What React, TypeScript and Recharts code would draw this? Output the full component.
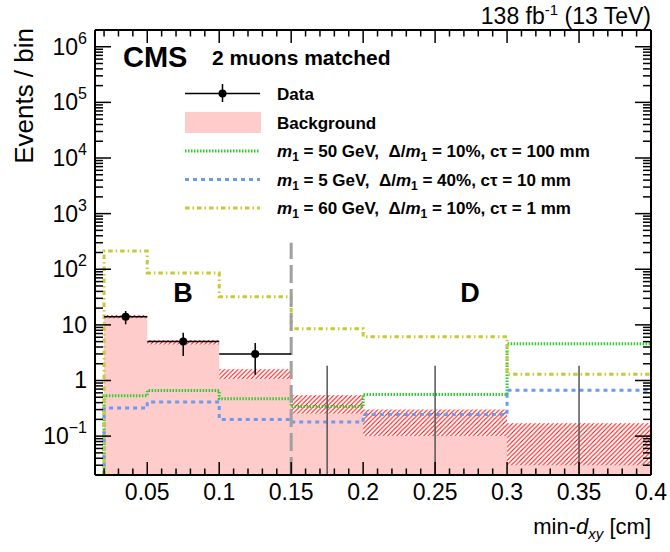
import React from "react"
import {
  ComposedChart,
  Area,
  Line,
  Scatter,
  XAxis,
  YAxis,
  ReferenceLine,
} from "recharts"

const FONT = "'Liberation Sans', Arial, Helvetica, sans-serif"

// binning of min-dxy [cm]
const binEdges = [0.02, 0.05, 0.1, 0.15, 0.2, 0.3, 0.4]
const binCenters = [0.035, 0.075, 0.125, 0.175, 0.25, 0.35]

// observed data
const dataCounts = [14, 5, 3, 0, 0, 0]
const dataErrLow = [3.74, 2.24, 1.73, 0, 0, 0]
const dataErrHigh = [3.74, 2.24, 1.73, 1.84, 1.84, 1.84]

// background prediction + uncertainty
const bkgValues = [14.1, 4.9, 1.34, 0.4, 0.2, 0.1]
const bkgErrors = [0.95, 0.44, 0.26, 0.145, 0.1, 0.07]

// signal models
const sigM50 = [0.53, 0.66, 0.47, 0.34, 0.56, 4.6]
const sigM5 = [0.32, 0.41, 0.2, 0.18, 0.245, 0.67]
const sigM60 = [212, 86, 32, 8.5, 6.1, 1.3]

const sigMass = [50, 5, 60]
const sigWidth = [10, 40, 10]
const sigCtau = [100, 10, 1]

// region boundary B | D
const REGION_EDGE = 0.15
const REGION_LINE_TOP = 300

// axes
const X_MIN = 0.0137
const X_MAX = 0.4
const Y_MIN = 0.02
const Y_MAX = 2e6

const xMajorTicks = [0.05, 0.1, 0.15, 0.2, 0.25, 0.3, 0.35, 0.4]
const xTickLabels = ["0.05", "0.1", "0.15", "0.2", "0.25", "0.3", "0.35", "0.4"]
const yMajorTicks = [0.1, 1, 10, 100, 1e3, 1e4, 1e5, 1e6]
const yTickLabels = [
  ["10", "\u22121"],
  ["1", ""],
  ["10", ""],
  ["10", "2"],
  ["10", "3"],
  ["10", "4"],
  ["10", "5"],
  ["10", "6"],
]

const xMinorTicks: number[] = []
for (let i = 2; i <= 40; i++) {
  if (i % 5 !== 0) xMinorTicks.push(i / 100)
}
const yMinorTicks: number[] = []
;[0.01, 0.1, 1, 10, 100, 1e3, 1e4, 1e5, 1e6].forEach((d) => {
  for (let m = 2; m <= 9; m++) {
    const v = m * d
    if (v >= Y_MIN && v < Y_MAX) yMinorTicks.push(v)
  }
})
const xTicks = [...xMajorTicks, ...xMinorTicks].sort((a, b) => a - b)
const yTicks = [...yMajorTicks, ...yMinorTicks].sort((a, b) => a - b)

// step tables (last edge repeats the last bin)
const bkgRows = binEdges.map((x, i) => {
  const j = Math.min(i, bkgValues.length - 1)
  return {
    x,
    bkg: bkgValues[j],
    band: [bkgValues[j] - bkgErrors[j], bkgValues[j] + bkgErrors[j]],
  }
})

const sigRows = [
  { x: binEdges[0], s50: Y_MIN, s5: Y_MIN, s60: Y_MIN },
  ...binEdges.map((x, i) => {
    const j = Math.min(i, sigM50.length - 1)
    return { x, s50: sigM50[j], s5: sigM5[j], s60: sigM60[j] }
  }),
]

const dataRows = binCenters
  .map((x, i) => ({ x, n: dataCounts[i] }))
  .filter((d) => d.n > 0)

const GREEN = "#2ecc2e"
const BLUE = "#6a9bf0"
const YELLOW = "#c8c83a"
const PINK = "#ffcccc"

const GREEN_DASH = "1.5 1.5"
const BLUE_DASH = "4 4"
const YELLOW_DASH = "4.5 3 1.5 3"

const majorIndex = (list: number[], v: number) =>
  list.findIndex((t) => Math.abs(t - v) <= 1e-9 * Math.max(1, t))

function BottomTick({ x, y, payload }: any) {
  const i = majorIndex(xMajorTicks, payload.value)
  return (
    <g>
      <line x1={x} x2={x} y1={y} y2={y - (i >= 0 ? 13 : 6.5)} stroke="#000" strokeWidth={1.5} />
      {i >= 0 && (
        <text x={x} y={y + 25} textAnchor="middle" fontSize={23} fontFamily={FONT} fill="#000">
          {xTickLabels[i]}
        </text>
      )}
    </g>
  )
}

function TopTick({ x, y, payload }: any) {
  const i = majorIndex(xMajorTicks, payload.value)
  return <line x1={x} x2={x} y1={y} y2={y + (i >= 0 ? 13 : 6.5)} stroke="#000" strokeWidth={1.5} />
}

function LeftTick({ x, y, payload }: any) {
  const i = majorIndex(yMajorTicks, payload.value)
  return (
    <g>
      <line x1={x} x2={x + (i >= 0 ? 16 : 8)} y1={y} y2={y} stroke="#000" strokeWidth={1.5} />
      {i >= 0 && (
        <text x={x - 8} y={y + 8} textAnchor="end" fontSize={23} fontFamily={FONT} fill="#000">
          {yTickLabels[i][0]}
          {yTickLabels[i][1] && (
            <tspan fontSize={16} dy={-11}>
              {yTickLabels[i][1]}
            </tspan>
          )}
        </text>
      )}
    </g>
  )
}

function RightTick({ x, y, payload }: any) {
  const i = majorIndex(yMajorTicks, payload.value)
  return <line x1={x} x2={x - (i >= 0 ? 16 : 8)} y1={y} y2={y} stroke="#000" strokeWidth={1.5} />
}

function SignalLabel({ i, y }: { i: number; y: number }) {
  return (
    <text x={277} y={y} fontSize={17} fontWeight="bold" style={{ whiteSpace: "pre" }}>
      <tspan fontStyle="italic">m</tspan>
      <tspan fontSize={12} dy={4}>1</tspan>
      <tspan dy={-4}>{` = ${sigMass[i]} GeV,  \u0394/`}</tspan>
      <tspan fontStyle="italic">m</tspan>
      <tspan fontSize={12} dy={4}>1</tspan>
      <tspan dy={-4}>{` = ${sigWidth[i]}%, c\u03c4 = ${sigCtau[i]} mm`}</tspan>
    </text>
  )
}

function Overlay() {
  const sigStyles = [
    { color: GREEN, dash: GREEN_DASH, y: 151 },
    { color: BLUE, dash: BLUE_DASH, y: 179.5 },
    { color: YELLOW, dash: YELLOW_DASH, y: 208 },
  ]
  return (
    <svg
      width={670}
      height={552}
      style={{ position: "absolute", left: 0, top: 0, pointerEvents: "none" }}
      fontFamily={FONT}
    >
      <text x={651} y={24} textAnchor="end" fontSize={23}>
        138 fb
        <tspan fontSize={15} dy={-9}>-1</tspan>
        <tspan dy={9}>{" (13 TeV)"}</tspan>
      </text>

      <text transform="translate(33,28) rotate(-90)" textAnchor="end" fontSize={26}>
        Events / bin
      </text>

      <text x={651} y={534} textAnchor="end" fontSize={22}>
        min-
        <tspan fontStyle="italic">d</tspan>
        <tspan fontStyle="italic" fontSize={15} dy={5}>xy</tspan>
        <tspan dy={-5}>{" [cm]"}</tspan>
      </text>

      <text x={123} y={67} fontSize={29} fontWeight="bold">CMS</text>
      <text x={212} y={65} fontSize={21} fontWeight="bold">2 muons matched</text>

      <text x={183} y={302} textAnchor="middle" fontSize={27} fontWeight="bold">B</text>
      <text x={470} y={302} textAnchor="middle" fontSize={27} fontWeight="bold">D</text>

      {/* legend */}
      <line x1={185} x2={260} y1={93.5} y2={93.5} stroke="#000" strokeWidth={1.5} />
      <line x1={222.5} x2={222.5} y1={84} y2={102} stroke="#000" strokeWidth={1.5} />
      <circle cx={222.5} cy={93.5} r={4} fill="#000" />
      <text x={277} y={99.5} fontSize={17} fontWeight="bold">Data</text>

      <rect x={185} y={112} width={76} height={21} fill={PINK} />
      <text x={277} y={128.5} fontSize={17} fontWeight="bold">Background</text>

      {sigStyles.map((s, i) => (
        <g key={i}>
          <line x1={185} x2={260} y1={s.y} y2={s.y} stroke={s.color} strokeWidth={3} strokeDasharray={s.dash} />
          <SignalLabel i={i} y={s.y + 6} />
        </g>
      ))}
    </svg>
  )
}

export default function App() {
  return (
    <div style={{ position: "absolute", left: 0, top: 0, width: 670, height: 552, background: "#fff" }}>
      <svg width={0} height={0} style={{ position: "absolute" }}>
        <defs>
          <pattern id="bkgHatch" patternUnits="userSpaceOnUse" width={4.5} height={4.5}>
            <rect width={4.5} height={4.5} fill="#fff" />
            <path d="M0,4.5 L4.5,0 M-1,1 L1,-1 M3.5,5.5 L5.5,3.5" stroke="#ff0000" strokeWidth={1} />
          </pattern>
        </defs>
      </svg>

      <ComposedChart
        width={670}
        height={552}
        data={bkgRows}
        margin={{ top: 0, right: 0, bottom: 0, left: 0 }}
      >
        <XAxis
          dataKey="x"
          type="number"
          domain={[X_MIN, X_MAX]}
          allowDataOverflow
          ticks={xTicks}
          interval={0}
          tick={<BottomTick />}
          tickSize={0}
          tickMargin={0}
          tickLine={false}
          axisLine={{ stroke: "#000", strokeWidth: 2 }}
          height={77}
        />
        <XAxis
          xAxisId="top"
          orientation="top"
          dataKey="x"
          type="number"
          domain={[X_MIN, X_MAX]}
          allowDataOverflow
          ticks={xTicks}
          interval={0}
          tick={<TopTick />}
          tickSize={0}
          tickMargin={0}
          tickLine={false}
          axisLine={{ stroke: "#000", strokeWidth: 2 }}
          height={30}
        />
        <YAxis
          type="number"
          scale="log"
          domain={[Y_MIN, Y_MAX]}
          allowDataOverflow
          ticks={yTicks}
          interval={0}
          tick={<LeftTick />}
          tickSize={0}
          tickMargin={0}
          tickLine={false}
          axisLine={{ stroke: "#000", strokeWidth: 2 }}
          width={95}
        />
        <YAxis
          yAxisId="right"
          orientation="right"
          type="number"
          scale="log"
          domain={[Y_MIN, Y_MAX]}
          allowDataOverflow
          ticks={yTicks}
          interval={0}
          tick={<RightTick />}
          tickSize={0}
          tickMargin={0}
          tickLine={false}
          axisLine={{ stroke: "#000", strokeWidth: 2 }}
          width={19}
        />

        <Area
          type="stepAfter"
          dataKey="bkg"
          stroke="none"
          fill={PINK}
          fillOpacity={1}
          isAnimationActive={false}
        />
        <Area
          type="stepAfter"
          dataKey="band"
          stroke="none"
          fill="url(#bkgHatch)"
          fillOpacity={1}
          isAnimationActive={false}
        />

        <Line
          data={sigRows}
          type="stepAfter"
          dataKey="s50"
          stroke={GREEN}
          strokeWidth={3}
          strokeDasharray={GREEN_DASH}
          dot={false}
          isAnimationActive={false}
        />
        <Line
          data={sigRows}
          type="stepAfter"
          dataKey="s5"
          stroke={BLUE}
          strokeWidth={3}
          strokeDasharray={BLUE_DASH}
          dot={false}
          isAnimationActive={false}
        />
        <Line
          data={sigRows}
          type="stepAfter"
          dataKey="s60"
          stroke={YELLOW}
          strokeWidth={3}
          strokeDasharray={YELLOW_DASH}
          dot={false}
          isAnimationActive={false}
        />

        <ReferenceLine
          segment={[
            { x: REGION_EDGE, y: Y_MIN },
            { x: REGION_EDGE, y: REGION_LINE_TOP },
          ]}
          stroke="#a0a0a0"
          strokeWidth={3}
          strokeDasharray="18 6"
          ifOverflow="hidden"
        />

        {binCenters.map((x, i) => (
          <ReferenceLine
            key={"ev" + i}
            segment={[
              { x, y: dataCounts[i] > 0 ? dataCounts[i] - dataErrLow[i] : Y_MIN },
              { x, y: dataCounts[i] + dataErrHigh[i] },
            ]}
            stroke={dataCounts[i] > 0 ? "#000" : "#555"}
            strokeWidth={1.5}
            ifOverflow="hidden"
          />
        ))}
        {binCenters.map((x, i) =>
          dataCounts[i] > 0 ? (
            <ReferenceLine
              key={"eh" + i}
              segment={[
                { x: binEdges[i], y: dataCounts[i] },
                { x: binEdges[i + 1], y: dataCounts[i] },
              ]}
              stroke="#000"
              strokeWidth={1.5}
              ifOverflow="hidden"
            />
          ) : null
        )}

        <Scatter
          data={dataRows}
          dataKey="n"
          fill="#000"
          isAnimationActive={false}
          shape={(p: any) => <circle cx={p.cx} cy={p.cy} r={4} fill="#000" />}
        />
      </ComposedChart>

      <Overlay />
    </div>
  )
}
